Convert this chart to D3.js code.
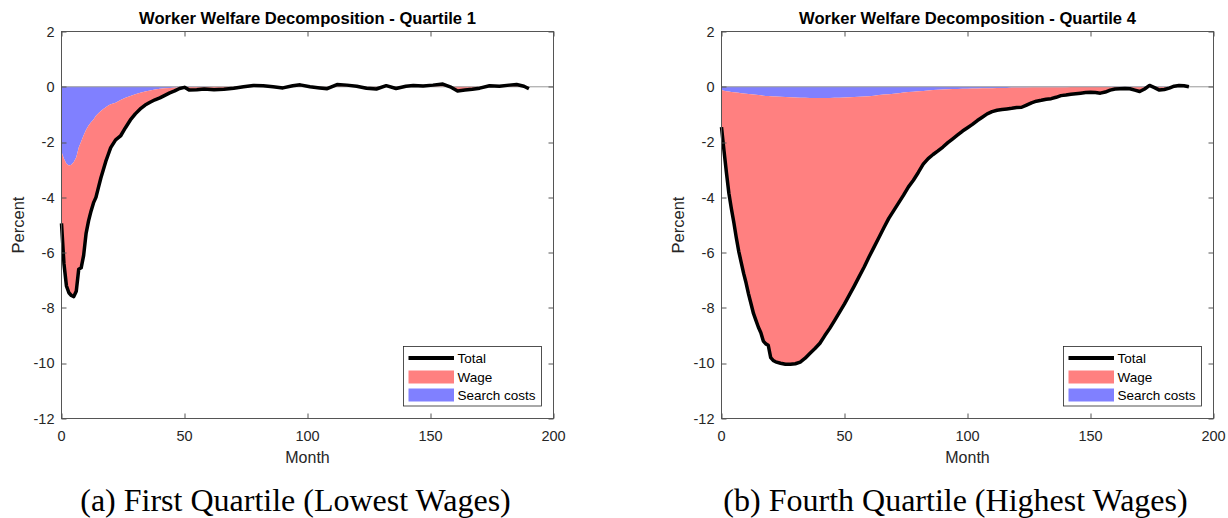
<!DOCTYPE html>
<html>
<head>
<meta charset="utf-8">
<script src="https://cdn.jsdelivr.net/npm/d3@7"></script>
<style>
  body { margin: 0; background: #fff; }
  svg text { font-family: "Liberation Sans", Arial, Helvetica, sans-serif; fill: #262626; }
</style>
</head>
<body>
<div id="chart"></div>
<script>
//*********************** Data ***********************

// Quartile 1 (lowest wages)
var q1_months = [0,1,2,3,4,5,6,7,8,9,10,11,12,13,14,15,16,17,18,19,20,
  22,24,26,28,30,32,34,36,38,40,42,44,46,48,50,
  52,55,58,62,66,70,74,78,82,86,90,94,97,101,105,108,112,116,120,124,128,
  132,136,140,143,147,151,155,158,161,164,167,170,174,178,182,185,188,190];
var q1_total = [-4.94,-6.40,-7.20,-7.45,-7.55,-7.59,-7.40,-6.60,-6.55,-6.10,-5.30,-4.85,-4.50,-4.20,-4.00,-3.65,-3.30,-3.00,-2.70,-2.45,-2.20,
  -1.92,-1.78,-1.48,-1.20,-0.98,-0.80,-0.66,-0.56,-0.47,-0.40,-0.31,-0.22,-0.15,-0.06,-0.02,
  -0.12,-0.11,-0.08,-0.11,-0.09,-0.05,0.00,0.05,0.04,0.00,-0.04,0.04,0.07,0.00,-0.04,-0.07,0.08,0.06,0.02,-0.05,-0.08,
  0.04,-0.06,0.02,0.05,0.03,0.06,0.10,0.00,-0.15,-0.12,-0.09,-0.05,0.04,0.02,0.06,0.08,0.02,-0.07];
var q1_wage = [-2.59,-3.80,-4.42,-4.60,-4.73,-4.87,-4.85,-4.40,-4.57,-4.35,-3.75,-3.45,-3.22,-3.02,-2.95,-2.69,-2.42,-2.20,-1.96,-1.77,-1.57,
  -1.34,-1.30,-1.08,-0.87,-0.71,-0.58,-0.49,-0.43,-0.37,-0.33,-0.26,-0.18,-0.12,-0.04,-0.01,
  -0.11,-0.10,-0.07,-0.11,-0.09,-0.05,0.00,0.05,0.04,0.00,-0.04,0.04,0.07,0.00,-0.04,-0.07,0.08,0.06,0.02,-0.05,-0.08,
  0.04,-0.06,0.02,0.05,0.03,0.06,0.10,0.00,-0.15,-0.12,-0.09,-0.05,0.04,0.02,0.06,0.08,0.02,-0.07];
var q1_search = [-2.35,-2.60,-2.78,-2.85,-2.82,-2.72,-2.55,-2.20,-1.98,-1.75,-1.55,-1.40,-1.28,-1.18,-1.05,-0.96,-0.88,-0.80,-0.74,-0.68,-0.63,
  -0.58,-0.48,-0.40,-0.33,-0.27,-0.22,-0.17,-0.13,-0.10,-0.07,-0.05,-0.04,-0.03,-0.02,-0.01,
  -0.01,-0.01,-0.01,0,0,0,0,0,0,0,0,0,0,0,0,0,0,0,0,0,0,
  0,0,0,0,0,0,0,0,0,0,0,0,0,0,0,0,0,0];

// Quartile 4 (highest wages)
var q4_months = [0,1,2,3,4,5,6,7,8,9,10,11,12,13,14,15,16,17,18,19,20,21,22,
  24,26,28,30,32,34,36,38,40,42,44,46,48,50,52,54,56,58,60,62,64,66,68,70,72,74,76,78,80,
  82,84,86,88,90,92,94,96,98,100,102,104,106,108,110,112,114,116,118,120,122,124,126,128,130,
  132,134,136,138,140,142,144,146,148,150,152,154,156,158,160,162,164,166,168,170,172,174,176,178,180,
  182,184,186,188,190];
var q4_total = [-1.46,-2.30,-3.10,-3.85,-4.40,-4.90,-5.45,-5.95,-6.35,-6.75,-7.10,-7.50,-7.85,-8.20,-8.45,-8.70,-8.90,-9.20,-9.30,-9.35,-9.80,-9.90,-9.95,
  -10.00,-10.04,-10.04,-10.02,-9.96,-9.82,-9.64,-9.47,-9.28,-9.00,-8.74,-8.45,-8.15,-7.85,-7.53,-7.20,-6.86,-6.52,-6.15,-5.80,-5.45,-5.10,-4.76,-4.48,-4.20,-3.92,-3.62,-3.38,-3.10,
  -2.80,-2.60,-2.45,-2.32,-2.18,-2.02,-1.88,-1.74,-1.60,-1.48,-1.36,-1.22,-1.10,-0.98,-0.90,-0.85,-0.82,-0.80,-0.78,-0.75,-0.74,-0.66,-0.58,-0.52,-0.49,
  -0.45,-0.43,-0.38,-0.32,-0.30,-0.27,-0.25,-0.23,-0.21,-0.20,-0.21,-0.23,-0.19,-0.12,-0.08,-0.07,-0.06,-0.07,-0.12,-0.17,-0.08,0.05,-0.03,-0.12,-0.10,
  -0.05,0.02,0.05,0.04,0.00];
var q4_wage = [-1.34,-2.16,-2.94,-3.68,-4.21,-4.70,-5.24,-5.73,-6.12,-6.51,-6.85,-7.24,-7.58,-7.92,-8.16,-8.40,-8.59,-8.88,-8.97,-9.02,-9.46,-9.55,-9.60,
  -9.64,-9.67,-9.66,-9.63,-9.56,-9.42,-9.23,-9.06,-8.87,-8.59,-8.33,-8.05,-7.75,-7.46,-7.15,-6.83,-6.50,-6.17,-5.81,-5.48,-5.15,-4.82,-4.49,-4.23,-3.97,-3.71,-3.43,-3.20,-2.94,
  -2.65,-2.47,-2.33,-2.21,-2.08,-1.93,-1.80,-1.66,-1.53,-1.41,-1.30,-1.16,-1.05,-0.93,-0.85,-0.81,-0.78,-0.76,-0.75,-0.72,-0.71,-0.63,-0.56,-0.50,-0.47,
  -0.43,-0.41,-0.36,-0.30,-0.28,-0.26,-0.24,-0.22,-0.20,-0.19,-0.20,-0.22,-0.18,-0.11,-0.07,-0.06,-0.05,-0.06,-0.11,-0.16,-0.07,0.06,-0.02,-0.11,-0.09,
  -0.04,0.03,0.06,0.05,0.01];
var q4_search = [-0.12,-0.14,-0.16,-0.17,-0.19,-0.20,-0.21,-0.22,-0.23,-0.24,-0.25,-0.26,-0.27,-0.28,-0.29,-0.30,-0.31,-0.32,-0.33,-0.33,-0.34,-0.35,-0.35,
  -0.36,-0.37,-0.38,-0.39,-0.40,-0.40,-0.41,-0.41,-0.41,-0.41,-0.41,-0.40,-0.40,-0.39,-0.38,-0.37,-0.36,-0.35,-0.34,-0.32,-0.30,-0.28,-0.27,-0.25,-0.23,-0.21,-0.19,-0.18,-0.16,
  -0.15,-0.13,-0.12,-0.11,-0.10,-0.09,-0.08,-0.08,-0.07,-0.07,-0.06,-0.06,-0.05,-0.05,-0.05,-0.04,-0.04,-0.04,-0.03,-0.03,-0.03,-0.03,-0.02,-0.02,-0.02,
  -0.02,-0.02,-0.02,-0.02,-0.02,-0.01,-0.01,-0.01,-0.01,-0.01,-0.01,-0.01,-0.01,-0.01,-0.01,-0.01,-0.01,-0.01,-0.01,-0.01,-0.01,-0.01,-0.01,-0.01,-0.01,
  -0.01,-0.01,-0.01,-0.01,-0.01];

var x_ticks = [0, 50, 100, 150, 200];
var y_ticks = [-12, -10, -8, -6, -4, -2, 0, 2];
var legend_labels = ['Total', 'Wage', 'Search costs'];
var titles = ['Worker Welfare Decomposition - Quartile 1', 'Worker Welfare Decomposition - Quartile 4'];
var captions = ['(a) First Quartile (Lowest Wages)', '(b) Fourth Quartile (Highest Wages)'];

//*************************** Layout ****************************************
var chart_width = 1228;
var chart_height = 518;
var panel_shift = 660;
var plot_left = 61.5, plot_top = 31.5, plot_w = 492, plot_h = 387;
var wage_color = '#ff8080';
var search_color = '#8080ff';
var axis_color = '#262626';

var svg = d3.select('#chart')
  .append('svg')
  .attr('width', chart_width)
  .attr('height', chart_height);

var x_scale = d3.scaleLinear().domain([0, 200]).range([0, plot_w]);
var y_scale = d3.scaleLinear().domain([-12, 2]).range([plot_h, 0]);

var panels = [
  { months: q1_months, total: q1_total, wage: q1_wage, search: q1_search },
  { months: q4_months, total: q4_total, wage: q4_wage, search: q4_search }
];

panels.forEach(function(p, k) {
  var g = svg.append('g')
    .attr('transform', 'translate(' + (plot_left + k * panel_shift) + ',' + plot_top + ')');

  // rows for the stacked areas (search first, wage stacked on it)
  var rows = p.months.map(function(m, i) {
    return { m: m, total: p.total[i], s: p.search[i], w: p.wage[i] };
  });

  var search_area = d3.area()
    .x(function(d) { return x_scale(d.m); })
    .y0(y_scale(0))
    .y1(function(d) { return y_scale(d.s); });

  var wage_area = d3.area()
    .x(function(d) { return x_scale(d.m); })
    .y0(function(d) { return y_scale(d.s); })
    .y1(function(d) { return y_scale(d.s + d.w); });

  var total_line = d3.line()
    .x(function(d) { return x_scale(d.m); })
    .y(function(d) { return y_scale(d.total); });

  g.append('path').datum(rows)
    .attr('d', search_area)
    .attr('fill', search_color);

  g.append('path').datum(rows)
    .attr('d', wage_area)
    .attr('fill', wage_color);

  // baseline of the area plot
  g.append('line')
    .attr('x1', 0).attr('x2', plot_w)
    .attr('y1', y_scale(0)).attr('y2', y_scale(0))
    .attr('stroke', '#9a9a9a')
    .attr('stroke-width', 1);

  g.append('path').datum(rows)
    .attr('d', total_line)
    .attr('fill', 'none')
    .attr('stroke', '#000')
    .attr('stroke-width', 3.5)
    .attr('stroke-linejoin', 'round');

  // axes box
  g.append('rect')
    .attr('x', 0).attr('y', 0)
    .attr('width', plot_w).attr('height', plot_h)
    .attr('fill', 'none')
    .attr('stroke', '#555')
    .attr('stroke-width', 1);

  var tick_len = 5;

  // x ticks, bottom and top, pointing inward
  x_ticks.forEach(function(t) {
    var x = Math.round(x_scale(t)) + 0.5;
    g.append('line').attr('x1', x).attr('x2', x)
      .attr('y1', plot_h).attr('y2', plot_h - tick_len)
      .attr('stroke', '#555');
    g.append('line').attr('x1', x).attr('x2', x)
      .attr('y1', 0).attr('y2', tick_len)
      .attr('stroke', '#555');
    g.append('text')
      .attr('x', x_scale(t))
      .attr('y', plot_h + 22)
      .attr('text-anchor', 'middle')
      .attr('font-size', '14.5px')
      .text(t);
  });

  // y ticks, left and right, pointing inward
  y_ticks.forEach(function(t) {
    var y = Math.round(y_scale(t)) + 0.5;
    g.append('line').attr('x1', 0).attr('x2', tick_len)
      .attr('y1', y).attr('y2', y)
      .attr('stroke', '#555');
    g.append('line').attr('x1', plot_w).attr('x2', plot_w - tick_len)
      .attr('y1', y).attr('y2', y)
      .attr('stroke', '#555');
    g.append('text')
      .attr('x', -7)
      .attr('y', y_scale(t))
      .attr('dy', '0.36em')
      .attr('text-anchor', 'end')
      .attr('font-size', '14.5px')
      .text(t);
  });

  // axis labels and title
  g.append('text')
    .attr('x', plot_w / 2)
    .attr('y', plot_h + 44)
    .attr('text-anchor', 'middle')
    .attr('font-size', '16px')
    .text('Month');

  g.append('text')
    .attr('transform', 'translate(-38,' + (plot_h / 2) + ') rotate(-90)')
    .attr('text-anchor', 'middle')
    .attr('font-size', '16.5px')
    .text('Percent');

  g.append('text')
    .attr('x', plot_w / 2)
    .attr('y', -7.5)
    .attr('text-anchor', 'middle')
    .attr('font-size', '16.6px')
    .attr('font-weight', 'bold')
    .style('fill', '#000')
    .text(titles[k]);

  // legend
  var lg = g.append('g').attr('transform', 'translate(342,315)');
  lg.append('rect')
    .attr('x', 0).attr('y', 0)
    .attr('width', 138).attr('height', 59.5)
    .attr('fill', '#fff')
    .attr('stroke', axis_color)
    .attr('stroke-width', 0.8);

  var rows_y = [11.5, 30.5, 48.5];
  lg.append('line')
    .attr('x1', 5).attr('x2', 50.5)
    .attr('y1', rows_y[0]).attr('y2', rows_y[0])
    .attr('stroke', '#000')
    .attr('stroke-width', 4);
  lg.append('rect')
    .attr('x', 5).attr('y', rows_y[1] - 6.5)
    .attr('width', 45.5).attr('height', 13)
    .attr('fill', wage_color);
  lg.append('rect')
    .attr('x', 5).attr('y', rows_y[2] - 6.5)
    .attr('width', 45.5).attr('height', 13)
    .attr('fill', search_color);

  legend_labels.forEach(function(lbl, i) {
    lg.append('text')
      .attr('x', 54)
      .attr('y', rows_y[i])
      .attr('dy', '0.36em')
      .attr('font-size', '13.5px')
      .style('fill', '#000')
      .text(lbl);
  });

  // sub-figure caption
  svg.append('text')
    .attr('x', plot_left + k * panel_shift + plot_w / 2 - 12)
    .attr('y', 511)
    .attr('text-anchor', 'middle')
    .attr('font-size', '32px')
    .style('font-family', '"Liberation Serif", "Times New Roman", serif')
    .style('fill', '#000')
    .text(captions[k]);
});
</script>
</body>
</html>
